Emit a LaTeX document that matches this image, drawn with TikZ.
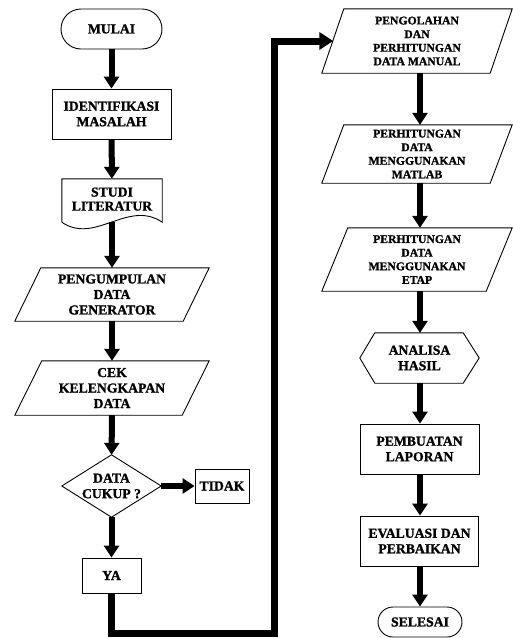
\documentclass[tikz,border=0pt]{standalone}
\usepackage{fontspec}
\setmainfont{Liberation Serif}[BoldFeatures={FakeBold=1.2}]
\usetikzlibrary{arrows.meta,calc}
\begin{document}
\begin{tikzpicture}[x=1pt,y=-1pt,
  shp/.style={draw=black,line width=0.9pt},
  lt/.style={font=\fontsize{13.7}{15.5}\selectfont\bfseries, align=center, inner sep=0pt},
  rt/.style={font=\fontsize{11.7}{13.6}\selectfont\bfseries, align=center, inner sep=0pt},
  flow/.style={line width=6pt, -{Triangle[length=12pt,width=15pt]}},
  bigline/.style={line width=7pt, line join=miter, -{Triangle[length=14pt,width=17pt]}}]
\useasboundingbox (0,0) rectangle (513,638);

% ---- left column ----
\node[lt, shp, rounded corners=20pt, minimum width=101pt, minimum height=40pt] (mulai) at (111.5,29) {MULAI};
\node[lt, shp, minimum width=119pt, minimum height=50pt] (ident) at (111.5,114) {IDENTIFIKASI\\MASALAH};
\node[lt, minimum width=100pt, minimum height=43pt] (studi) at (112,200.5) {\raisebox{2pt}{\begin{tabular}{@{}c@{}}STUDI\\[-1.5pt]LITERATUR\end{tabular}}};
\node[lt, minimum width=194pt, minimum height=53pt] (kumpul) at (112,294.5) {PENGUMPULAN\\DATA\\GENERATOR};
\node[lt, minimum width=194pt, minimum height=54pt] (cek) at (112,388) {CEK\\KELENGKAPAN\\DATA};
\node[lt, minimum width=99pt, minimum height=62pt] (cukup) at (111.5,486) {DATA\\CUKUP ?};
\node[lt, shp, minimum width=54pt, minimum height=34pt] (tidak) at (222,486) {TIDAK};
\node[lt, shp, minimum width=59pt, minimum height=35pt] (ya) at (111.5,575.5) {YA};

% ---- right column ----
\node[rt, minimum width=190pt, minimum height=64pt] (olah) at (417,41) {PENGOLAHAN\\DAN\\PERHITUNGAN\\DATA MANUAL};
\node[rt, minimum width=190pt, minimum height=58pt] (matlab) at (417,154) {PERHITUNGAN\\DATA\\MENGGUNAKAN\\MATLAB};
\node[rt, minimum width=190pt, minimum height=63pt] (etap) at (417,259.5) {PERHITUNGAN\\DATA\\MENGGUNAKAN\\ETAP};
\node[lt, minimum width=119pt, minimum height=50pt] (analisa) at (419.5,358) {ANALISA\\HASIL};
\node[lt, shp, minimum width=119pt, minimum height=50pt] (laporan) at (419.5,449) {PEMBUATAN\\LAPORAN};
\node[lt, shp, minimum width=118pt, minimum height=50pt] (evaluasi) at (419.5,541) {EVALUASI DAN\\PERBAIKAN};
\node[lt, shp, rounded corners=15pt, minimum width=84pt, minimum height=30pt] (selesai) at (420,622) {SELESAI};

% ---- custom outlines ----
\draw[shp] (studi.south west) -- (studi.north west) -- (studi.north east) -- (studi.south east)
  .. controls (128,199) and (95,245) .. (studi.south west);
\foreach \n/\s in {kumpul/26pt, cek/27pt, olah/22pt, matlab/22pt, etap/26pt}{
  \draw[shp] ([xshift=\s]\n.north west) -- (\n.north east) -- ([xshift=-\s]\n.south east) -- (\n.south west) -- cycle;
}
\draw[shp] (cukup.north) -- (cukup.east) -- (cukup.south) -- (cukup.west) -- cycle;
\draw[shp] ([xshift=15pt]analisa.north west) -- ([xshift=-16pt]analisa.north east) -- (analisa.east)
  -- ([xshift=-16pt]analisa.south east) -- ([xshift=15pt]analisa.south west) -- (analisa.west) -- cycle;

% ---- connectors ----
\draw[flow] (mulai) -- (ident);
\draw[flow] (ident) -- (studi);
\draw[flow] (studi.south) -- (kumpul);
\draw[flow] (kumpul) -- (cek);
\draw[flow] (cek) -- (cukup);
\draw[flow] (cukup.east) -- (tidak.west);
\draw[flow] (cukup.south) -- (ya.north);
\coordinate (b1) at (111.5,633);
\coordinate (b2) at (274,633);
\coordinate (olahin) at ($(olah.west)+(11.5pt,0)$);
\coordinate (b3) at (b2 |- olahin);
\draw[bigline] (ya.south) -- (b1) -- (b2) -- (b3) -- (olahin);
\draw[flow] (olah.south -| 420,0) -- (matlab.north -| 420,0);
\draw[flow] (matlab.south -| 420,0) -- (etap.north -| 420,0);
\draw[flow] (etap.south -| 420,0) -- (analisa.north -| 420,0);
\draw[flow] (analisa.south -| 420,0) -- (laporan.north -| 420,0);
\draw[flow] (laporan.south -| 420,0) -- (evaluasi.north -| 420,0);
\draw[flow] (evaluasi.south -| 420,0) -- (selesai.north -| 420,0);
\end{tikzpicture}
\end{document}
